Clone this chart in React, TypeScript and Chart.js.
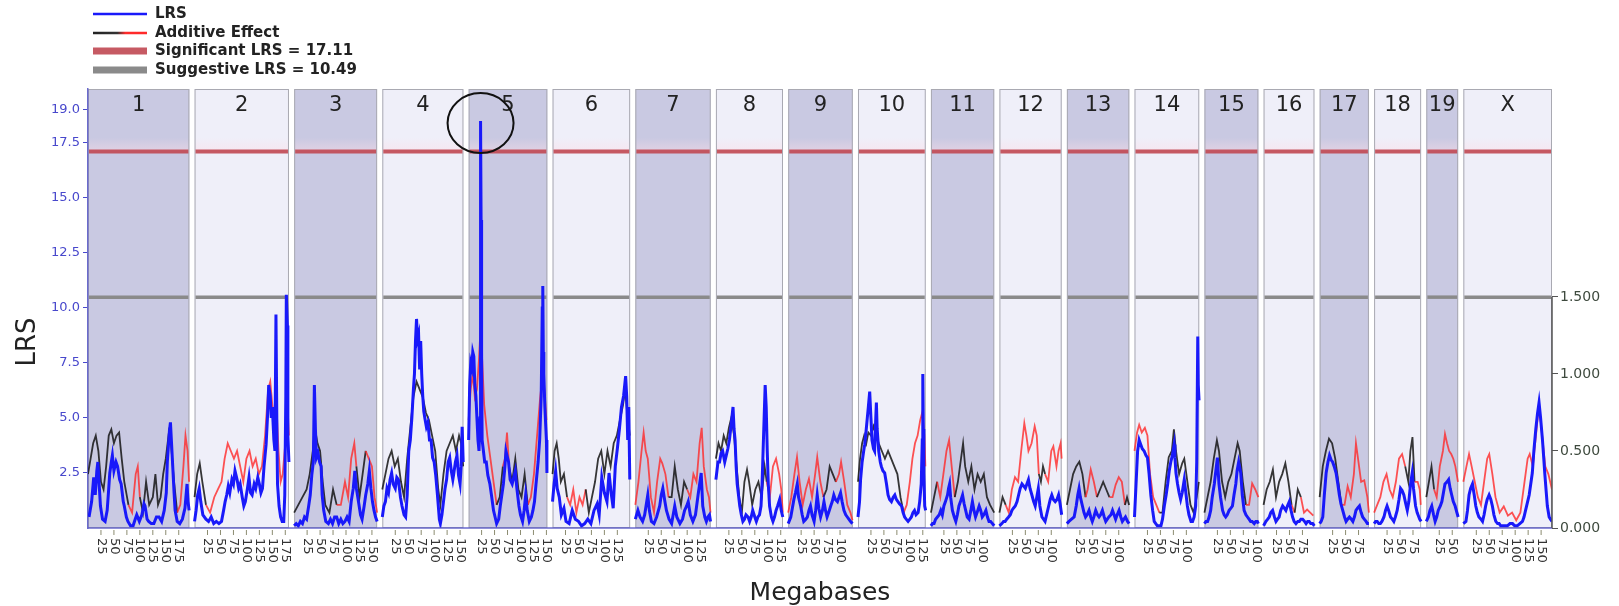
import React, { useEffect, useRef } from 'react';
import { Chart, registerables } from 'chart.js';
Chart.register(...registerables);

// ---------- data ----------
const chromosomes = ['1','2','3','4','5','6','7','8','9','10','11','12','13','14','15','16','17','18','19','X'];
const chrLengthsMb = [195.5,182.1,160.0,156.5,151.8,149.7,145.4,129.4,124.6,130.7,122.1,120.1,120.4,124.9,104.0,98.2,95.0,90.7,61.4,171.0];
const gapMb = 10;
const xTickMb = [25,50,75,100,125,150,175];
const lrsTicks = [2.5,5,7.5,10,12.5,15,17.5,19];
const additiveTicks = [0,0.5,1,1.5];
const significantLRS = 17.11;
const suggestiveLRS = 10.49;
const circleChr = 4;
const circleMb = 23;
const circleLRS = 18.4;

// LRS per chromosome: [Mb, LRS]
const lrs1 = [[2,0.5],[7,1.2],[11,2.3],[14,1.5],[17,2.6],[19,3.0],[22,1.8],[24,1.0],[28,0.4],[33,0.3],[37,0.8],[40,1.8],[42,2.5],[45,3.0],[47,3.3],[50,2.6],[54,3.0],[57,2.8],[61,2.2],[64,2.0],[68,1.2],[70,1.0],[74,0.5],[77,0.3],[82,0.1],[87,0.1],[91,0.4],[94,0.6],[99,0.3],[104,0.6],[108,1.1],[110,1.0],[114,0.4],[117,0.3],[122,0.2],[127,0.2],[132,0.5],[137,0.5],[142,0.3],[147,0.8],[151,1.6],[153,3.0],[157,4.4],[159,4.8],[161,3.9],[163,3.0],[166,1.6],[168,0.8],[172,0.3],[177,0.2],[182,0.4],[187,0.9],[191,2.0],[193,1.2],[195,0.8]];
const lrs2 = [[0,0.3],[3,0.8],[6,1.5],[9,1.8],[12,1.2],[16,0.6],[22,0.4],[27,0.3],[32,0.5],[37,0.2],[42,0.3],[47,0.2],[52,0.3],[56,0.8],[59,1.2],[62,1.5],[65,1.9],[68,1.6],[72,2.2],[75,2.0],[78,2.6],[82,2.2],[85,1.8],[88,2.0],[92,1.4],[95,1.0],[98,1.2],[102,1.8],[105,2.3],[108,1.6],[111,1.5],[115,2.0],[118,1.8],[122,2.3],[125,2.0],[128,1.6],[131,1.8],[134,2.8],[138,3.8],[141,5.2],[143,6.5],[146,6.0],[148,5.0],[150,5.5],[153,4.0],[155,3.5],[157,9.7],[159,4.0],[160,2.0],[163,1.0],[166,0.5],[169,0.3],[172,0.3],[174,1.5],[176,6.0],[177,10.6],[179,9.2],[180,4.2],[182,3.0]];
const lrs3 = [[0,0.1],[4,0.2],[8,0.1],[12,0.3],[16,0.2],[20,0.5],[24,0.4],[28,1.0],[31,1.5],[34,2.4],[37,3.0],[39,6.5],[41,4.5],[43,3.2],[46,3.4],[49,3.0],[52,2.8],[54,1.5],[57,0.8],[61,0.3],[66,0.2],[70,0.4],[74,0.2],[78,0.5],[82,0.5],[86,0.2],[90,0.4],[94,0.2],[98,0.3],[102,0.5],[106,0.3],[110,1.2],[114,1.8],[117,2.6],[120,1.8],[124,1.2],[128,0.6],[131,0.4],[135,1.0],[138,1.5],[142,2.0],[145,2.6],[148,1.8],[151,1.2],[154,0.8],[157,0.5],[160,0.3]];
const lrs4 = [[0,0.5],[3,1.0],[6,1.2],[9,1.8],[12,1.6],[15,2.2],[18,2.5],[21,2.0],[25,1.8],[28,2.3],[31,2.2],[35,1.4],[38,1.0],[42,0.6],[45,0.5],[48,1.5],[51,3.5],[54,4.0],[57,5.0],[60,6.3],[62,7.0],[64,8.5],[66,9.5],[68,8.6],[70,8.8],[72,7.2],[74,8.5],[76,7.0],[78,6.0],[80,5.3],[82,5.0],[85,4.6],[88,4.8],[91,4.0],[94,4.0],[97,3.2],[100,3.0],[103,2.4],[106,1.6],[108,1.0],[110,0.4],[112,0.2],[115,0.6],[118,1.2],[121,1.8],[124,2.2],[127,3.0],[130,3.2],[133,2.6],[136,2.2],[138,2.5],[141,3.0],[144,3.3],[147,2.4],[150,2.0],[152,2.8],[154,4.6],[156,3.0]];
const lrs5 = [[0,4.0],[2,6.5],[4,7.5],[6,7.3],[8,8.0],[10,7.8],[12,6.5],[14,6.0],[16,5.0],[18,4.0],[20,3.5],[22,5.0],[23,18.5],[24,14.0],[25,8.0],[26,4.0],[28,3.6],[31,3.0],[34,3.0],[37,2.4],[41,2.0],[44,1.5],[48,0.8],[51,0.5],[54,0.2],[58,0.4],[61,1.0],[64,1.5],[67,2.0],[70,2.8],[72,3.5],[75,3.2],[77,3.0],[80,2.2],[84,2.0],[87,2.3],[90,2.6],[93,1.8],[97,1.0],[100,0.6],[104,0.3],[107,0.8],[110,1.5],[113,0.8],[117,0.3],[121,0.5],[124,0.8],[127,1.2],[130,2.0],[134,3.0],[137,4.0],[140,6.0],[142,10.0],[143,11.0],[144,8.0],[145,7.0],[147,5.5],[149,4.5],[150,4.0],[151,2.5]];
const lrs6 = [[0,1.2],[3,2.0],[6,2.6],[9,1.8],[13,1.4],[17,0.6],[22,0.9],[26,0.3],[32,0.2],[38,0.8],[44,0.4],[50,0.3],[56,0.1],[62,0.2],[68,0.4],[74,0.2],[80,0.8],[86,1.1],[90,0.6],[95,2.3],[100,1.6],[105,1.2],[109,2.5],[113,1.6],[117,0.9],[121,2.8],[125,3.6],[129,4.5],[133,5.5],[137,6.0],[141,6.9],[143,6.0],[145,4.0],[147,5.5],[149,2.2]];
const lrs7 = [[0,0.4],[5,0.8],[9,0.5],[14,0.3],[18,0.6],[22,1.2],[24,1.5],[27,0.8],[31,0.3],[36,0.2],[41,0.5],[47,1.0],[50,1.5],[53,1.8],[57,1.2],[60,0.8],[65,0.4],[70,0.2],[76,1.0],[80,0.5],[86,0.2],[91,0.4],[95,0.8],[99,1.0],[102,1.2],[106,0.6],[111,0.3],[116,0.6],[121,1.5],[124,2.0],[127,2.5],[130,1.0],[134,0.5],[137,0.3],[140,0.5],[143,0.6],[145,0.3]];
const lrs8 = [[0,2.2],[4,3.0],[7,3.0],[10,3.4],[13,3.5],[17,3.0],[20,3.3],[23,3.6],[26,4.0],[29,4.6],[33,5.5],[35,4.5],[37,4.0],[39,2.8],[41,2.0],[44,1.4],[46,1.0],[49,0.6],[52,0.3],[55,0.4],[58,0.6],[62,0.5],[65,0.3],[68,0.5],[71,0.8],[75,0.5],[78,0.3],[81,0.5],[84,0.6],[87,1.0],[89,2.0],[91,3.5],[93,5.0],[95,6.5],[97,5.5],[99,3.5],[101,2.0],[103.5,1.0],[107,0.5],[110,0.3],[113,0.5],[116,0.8],[119,1.0],[123,1.3],[126,0.8],[129,0.5]];
const lrs9 = [[0,0.2],[5,0.5],[8,0.9],[11,1.3],[14,1.6],[17.5,2.0],[20,1.4],[24,1.0],[27,0.6],[30,0.3],[34,0.4],[37,0.5],[40,0.8],[43,1.0],[46,0.6],[50,0.3],[53,0.8],[56,1.5],[59,0.9],[62.5,0.5],[66,0.8],[69,1.2],[72,0.8],[75,0.5],[78,0.7],[82,1.0],[85,1.2],[88,1.5],[91,1.3],[95,1.2],[98,1.4],[101,1.6],[104,1.2],[107.5,0.8],[111,0.6],[114,0.5],[117,0.4],[120,0.3],[124,0.2]];
const lrs10 = [[0,0.5],[3,1.2],[5,2.2],[8,3.0],[11,3.5],[13,3.8],[16,4.5],[18,5.0],[20,5.5],[22.6,6.2],[25,5.0],[27,4.0],[30,3.6],[32,3.5],[34,4.8],[35.5,5.7],[37,4.5],[40,3.5],[43,3.0],[45,2.8],[48,2.6],[51.5,2.5],[55,2.0],[58,1.5],[61,1.3],[64.5,1.2],[68,1.4],[71,1.5],[74,1.3],[77,1.2],[80,1.1],[84,1.0],[87,0.7],[90,0.5],[93,0.4],[96.6,0.3],[100,0.4],[103,0.5],[106,0.7],[109,0.8],[112,0.6],[116,0.7],[119,1.2],[122,2.0],[124,4.0],[125,7.0],[126,4.5],[127,2.5],[128.7,1.0],[130.5,0.8]];
const lrs11 = [[0,0.1],[3,0.2],[6,0.2],[9,0.4],[12.5,0.5],[16,0.6],[19,0.8],[22,0.6],[25,1.0],[28,1.2],[32,1.5],[34,1.8],[36,2.0],[38,1.4],[41.4,0.8],[45,0.5],[48,0.3],[51,0.6],[54,1.0],[57,1.2],[61,1.5],[64,1.1],[67,0.8],[70,0.5],[73.6,0.4],[77,0.8],[80,1.2],[83,0.8],[86,0.5],[89,0.7],[93,1.0],[96,0.8],[99,0.5],[102,0.6],[106,0.8],[109,0.5],[112,0.3],[115,0.3],[118.6,0.2],[122,0.1]];
const lrs12 = [[0,0.1],[4.7,0.2],[8,0.3],[11,0.3],[14,0.4],[17.6,0.5],[21,0.6],[24,0.8],[27,0.9],[30.5,1.0],[34,1.2],[37,1.5],[40,1.8],[43.5,2.0],[47,1.9],[50,1.8],[53,2.0],[56,2.2],[59,1.8],[62.6,1.5],[66,1.2],[69,1.0],[72,1.4],[75,1.8],[78,1.0],[82,0.5],[85,0.4],[88,0.3],[91,0.6],[95,1.0],[98,1.3],[101,1.5],[104,1.3],[107.6,1.2],[111,1.3],[114,1.5],[117,1.1],[120,0.6]];
const lrs13 = [[0,0.2],[4,0.3],[9,0.4],[14,0.5],[18,1.0],[21,1.5],[23.5,1.8],[26,1.4],[30,1.0],[33,0.7],[36,0.5],[39,0.6],[42.7,0.8],[46,0.5],[49,0.3],[52,0.5],[55.6,0.8],[59,0.6],[62,0.5],[65,0.6],[68.5,0.8],[72,0.5],[75,0.3],[78,0.4],[81,0.5],[85,0.6],[88,0.8],[91,0.6],[94,0.4],[97,0.6],[100.6,0.8],[104,0.5],[107,0.3],[110,0.4],[113,0.5],[117,0.3],[120,0.2]];
const lrs14 = [[0,0.5],[3,2.0],[6,3.5],[9,4.0],[12,3.8],[15,3.6],[18.6,3.5],[22,3.3],[25,3.2],[28,2.5],[31.5,1.5],[35,0.8],[38,0.3],[41,0.2],[44,0.1],[48,0.1],[51,0.1],[54,0.4],[57.5,1.0],[61,1.5],[64,2.0],[67,2.6],[70,3.0],[73,3.3],[76.5,3.8],[78,3.2],[80,2.5],[83,2.0],[86,1.6],[89,1.3],[92,1.6],[96,2.2],[99,1.6],[102,1.0],[105,0.6],[109,0.3],[112,0.3],[115,0.5],[118,1.0],[120,3.0],[122,8.7],[123,6.5],[124.5,5.8]];
const lrs15 = [[0,0.2],[3,0.3],[6,0.3],[9,0.5],[12,0.8],[15,1.4],[19,2.0],[22,2.6],[25,3.2],[28,2.0],[31,1.4],[35,0.8],[38,0.6],[41,0.5],[44,0.6],[47.6,0.8],[51,0.9],[54,1.0],[57,1.5],[60.5,2.0],[63,2.6],[66,3.0],[70,2.5],[73,1.5],[76.5,0.8],[80,0.6],[83,0.5],[86,0.4],[89,0.3],[92,0.3],[96,0.2],[99,0.3],[102,0.3],[104,0.2]];
const lrs16 = [[0,0.1],[4.6,0.3],[8,0.4],[11,0.5],[14,0.7],[17.5,0.8],[21,0.5],[24,0.3],[27,0.4],[30,0.5],[33,0.8],[36.8,1.0],[40,0.9],[43,0.8],[46,1.0],[49.7,1.2],[53,0.8],[56,0.5],[59,0.3],[62.5,0.2],[66,0.3],[69,0.3],[72,0.4],[75.4,0.4],[79,0.3],[82,0.2],[85,0.3],[88,0.3],[91,0.2],[94.7,0.2],[98,0.1]];
const lrs17 = [[0,0.2],[3,0.3],[6,0.5],[9,1.5],[12.5,2.5],[16,3.0],[19,3.3],[22,3.1],[25,3.0],[28,2.8],[31.7,2.5],[35,2.0],[38,1.5],[41,1.1],[44.5,0.8],[48,0.5],[51,0.3],[54,0.4],[57.4,0.5],[61,0.4],[64,0.3],[67,0.5],[70,0.8],[73,0.9],[76.7,1.0],[80,0.7],[83,0.5],[86,0.4],[89.5,0.3],[92,0.2],[95,0.2]];
const lrs18 = [[0,0.2],[3,0.3],[6,0.3],[9,0.2],[12,0.2],[15,0.3],[19,0.5],[22,0.8],[25,1.0],[28,0.8],[31.7,0.5],[35,0.4],[38,0.3],[41,0.5],[44.5,0.8],[48,1.3],[51,1.8],[54,1.7],[57.4,1.5],[61,1.1],[64,0.8],[67,1.2],[70.3,2.0],[73.5,2.5],[76,1.8],[80,1.0],[83,0.7],[86.3,0.5],[88,0.4],[90.7,0.3]];
const lrs19 = [[0,0.3],[4,0.5],[7,0.8],[10.5,1.0],[14,0.6],[17,0.3],[20,0.5],[23,0.8],[27,1.0],[30,1.2],[33,1.6],[36,2.0],[40,2.1],[43,2.2],[46,1.8],[49,1.5],[52,1.2],[55.6,1.0],[59,0.7],[61.4,0.5]];
const lrsX = [[0,0.2],[5,0.3],[8,0.8],[11,1.5],[14,1.8],[17.6,2.0],[21,1.5],[24,1.0],[27,0.7],[30,0.5],[34,0.4],[37,0.3],[40,0.6],[43,1.0],[46,1.3],[49.7,1.5],[53,1.3],[56,1.0],[59,0.6],[62.6,0.3],[66,0.2],[69,0.2],[72,0.1],[75,0.1],[80,0.1],[85,0.1],[90,0.2],[94.8,0.2],[99,0.1],[104,0.1],[109,0.2],[114,0.3],[117,0.5],[120,0.8],[124,1.2],[127,1.5],[130,2.0],[133,2.5],[136,3.5],[139.8,4.5],[143,5.2],[146,5.7],[149,5.0],[152.6,4.0],[155,3.2],[157,2.5],[160,1.6],[162,1.0],[165.5,0.5],[168,0.4],[171,0.3]];

// Additive effect per chromosome: [Mb, signed effect] (positive = black, negative = red)
const add1 = [[0,0.35],[5,0.45],[10,0.55],[15,0.6],[20,0.5],[25,0.3],[30,0.25],[35,0.4],[40,0.6],[45,0.64],[50,0.55],[55,0.6],[60,0.62],[65,0.45],[70,0.3],[78,0.15],[85,-0.1],[92,-0.35],[96,-0.4],[100,-0.2],[106,0.1],[112,0.3],[118,0.15],[125,0.2],[130,0.35],[135,0.15],[140,0.2],[145,0.35],[150,0.45],[156,0.62],[160,0.55],[166,0.3],[172,0.1],[178,-0.15],[184,-0.4],[188,-0.6],[192,-0.5],[195,-0.3]];
const add2 = [[0,0.2],[5,0.35],[10,0.42],[15,0.3],[22,0.15],[30,-0.1],[38,-0.2],[45,-0.25],[52,-0.3],[58,-0.45],[64,-0.55],[70,-0.5],[76,-0.45],[82,-0.5],[88,-0.4],[94,-0.3],[100,-0.45],[106,-0.5],[112,-0.4],[118,-0.45],[124,-0.35],[130,-0.4],[136,-0.6],[142,-0.9],[146,-0.95],[150,-0.8],[154,-0.7],[158,-0.8],[162,-0.5],[166,-0.3],[170,-0.35],[175,-0.55],[178,-0.9],[182,-0.6]];
const add3 = [[0,0.1],[8,0.15],[16,0.2],[24,0.25],[30,0.35],[36,0.5],[40,0.65],[45,0.55],[50,0.5],[55,0.3],[60,0.15],[68,0.1],[75,0.25],[82,0.15],[90,-0.15],[98,-0.3],[104,-0.2],[110,-0.45],[116,-0.55],[120,-0.4],[126,0.2],[132,0.35],[138,0.5],[144,-0.45],[150,-0.4],[155,-0.2],[160,-0.1]];
const add4 = [[0,0.25],[6,0.35],[12,0.45],[18,0.5],[24,0.4],[30,0.45],[36,0.3],[42,0.2],[48,0.45],[54,0.65],[60,0.85],[66,0.95],[72,0.9],[78,0.85],[84,0.75],[90,0.7],[96,0.6],[102,0.5],[108,0.25],[112,0.15],[118,0.35],[124,0.5],[130,0.55],[136,0.6],[142,0.5],[148,0.6],[152,0.55],[156,0.4]];
const add5 = [[0,-0.7],[4,-0.9],[8,-1.0],[12,-0.85],[16,-0.9],[20,-1.1],[23,-1.3],[26,-1.1],[30,-0.8],[36,-0.6],[42,-0.45],[48,-0.3],[54,-0.15],[60,0.2],[66,0.4],[70,-0.45],[74,-0.62],[78,-0.4],[84,0.3],[90,0.45],[96,0.25],[102,0.2],[108,0.35],[114,0.15],[120,-0.2],[126,-0.35],[132,-0.6],[138,-0.85],[143,-1.0],[146,-0.9],[150,-0.7]];
const add6 = [[0,0.35],[4,0.5],[8,0.55],[12,0.45],[16,0.3],[22,0.35],[28,0.2],[34,-0.15],[40,-0.25],[46,-0.1],[52,-0.2],[58,-0.15],[64,-0.25],[70,0.1],[76,0.2],[82,0.3],[88,0.45],[94,0.5],[100,0.35],[106,0.5],[112,0.4],[118,0.55],[124,0.6],[130,0.7],[136,0.8],[140,0.9],[144,0.75],[149,0.6]];
const add7 = [[0,-0.15],[6,-0.3],[12,-0.5],[16,-0.62],[20,-0.5],[24,-0.45],[30,-0.2],[36,-0.1],[42,-0.3],[48,-0.45],[52,-0.42],[58,-0.35],[64,-0.2],[70,0.2],[76,0.4],[82,0.25],[88,0.15],[94,0.3],[100,0.25],[106,-0.2],[112,-0.35],[118,-0.3],[124,-0.55],[128,-0.65],[132,-0.4],[138,-0.25],[142,-0.2],[145,-0.1]];
const add8 = [[0,0.45],[5,0.55],[10,0.5],[15,0.6],[20,0.55],[25,0.65],[30,0.72],[35,0.6],[40,0.4],[45,0.2],[50,0.1],[55,0.3],[60,0.38],[64,0.3],[70,0.15],[76,0.25],[82,0.3],[88,0.2],[94,0.4],[98,0.3],[104,-0.2],[110,-0.4],[116,-0.45],[122,-0.35],[126,-0.25],[129,-0.1]];
const add9 = [[0,-0.1],[6,-0.2],[12,-0.35],[17,-0.46],[22,-0.3],[28,-0.15],[34,-0.25],[40,-0.32],[46,-0.2],[52,-0.35],[56,-0.46],[62,-0.3],[68,-0.2],[74,0.25],[80,0.4],[86,0.35],[92,0.3],[98,-0.35],[102,-0.43],[108,-0.3],[114,-0.15],[120,-0.1],[124,-0.05]];
const add10 = [[0,0.3],[4,0.45],[8,0.55],[12,0.6],[16,0.55],[20,0.62],[25,0.6],[30,0.66],[35,0.6],[40,0.55],[46,0.5],[52,0.45],[58,0.5],[64,0.45],[70,0.4],[76,0.35],[82,0.2],[88,0.1],[94,-0.15],[100,-0.3],[105,-0.45],[110,-0.55],[115,-0.6],[120,-0.7],[124,-0.75],[128,-0.6],[130,-0.4]];
const add11 = [[0,0.1],[6,0.2],[12,0.3],[18,-0.2],[24,-0.35],[30,-0.5],[35,-0.57],[40,-0.4],[46,-0.2],[52,0.3],[58,0.45],[62,0.55],[66,0.4],[72,0.3],[78,0.4],[84,0.25],[90,0.35],[96,0.3],[102,0.35],[108,0.2],[114,0.15],[122,0.1]];
const add12 = [[0,0.1],[6,0.2],[12,0.15],[18,-0.1],[24,-0.25],[30,-0.33],[36,-0.3],[42,-0.5],[48,-0.68],[52,-0.6],[56,-0.5],[62,-0.55],[68,-0.66],[72,-0.6],[76,-0.35],[80,0.3],[84,0.4],[88,0.35],[94,-0.3],[100,-0.5],[104,-0.53],[110,-0.4],[114,-0.5],[118,-0.55],[120,-0.45]];
const add13 = [[0,0.15],[6,0.25],[12,0.35],[18,0.4],[24,0.43],[30,0.35],[36,0.2],[40,-0.25],[46,-0.38],[52,-0.3],[58,-0.2],[64,0.25],[70,0.3],[76,0.25],[82,0.2],[88,-0.2],[94,-0.28],[100,-0.33],[106,-0.3],[112,-0.15],[116,0.2],[120,0.15]];
const add14 = [[0,-0.5],[5,-0.62],[9,-0.67],[14,-0.62],[20,-0.65],[25,-0.6],[30,-0.35],[36,-0.2],[42,-0.15],[48,-0.1],[54,0.1],[60,0.3],[66,0.46],[72,0.5],[76,0.64],[80,0.5],[86,0.35],[92,0.42],[96,0.45],[102,0.3],[108,0.15],[114,0.1],[120,0.2],[124,0.3]];
const add15 = [[0,0.1],[6,0.2],[12,0.3],[18,0.45],[24,0.57],[28,0.5],[34,0.3],[40,0.2],[46,0.3],[52,0.35],[58,0.45],[64,0.55],[68,0.5],[74,0.3],[80,0.15],[86,-0.15],[92,-0.29],[98,-0.25],[104,-0.2]];
const add16 = [[0,0.15],[6,0.25],[12,0.3],[18,0.38],[24,0.2],[30,0.3],[36,0.35],[42,0.42],[48,0.3],[54,0.15],[60,-0.1],[66,0.25],[72,0.2],[78,-0.1],[84,-0.12],[90,-0.1],[96,-0.08]];
const add17 = [[0,0.2],[6,0.4],[12,0.5],[18,0.58],[24,0.55],[30,0.45],[36,0.3],[42,0.15],[48,-0.15],[54,-0.27],[60,-0.2],[66,-0.35],[70,-0.55],[74,-0.45],[80,-0.3],[86,-0.31],[92,-0.2],[95,-0.1]];
const add18 = [[0,-0.1],[6,-0.15],[12,-0.2],[18,-0.3],[24,-0.35],[30,-0.25],[36,-0.2],[42,-0.3],[48,-0.45],[54,-0.48],[60,-0.4],[66,0.3],[70,0.5],[74,0.59],[78,0.3],[84,-0.3],[88,-0.25],[90,-0.15]];
const add19 = [[0,0.2],[5,0.3],[10,0.4],[15,0.25],[20,-0.2],[26,-0.4],[32,-0.5],[36,-0.61],[40,-0.55],[44,-0.5],[48,-0.48],[52,-0.45],[56,-0.4],[61,-0.3]];
const addX = [[0,-0.3],[6,-0.4],[11,-0.48],[16,-0.4],[22,-0.3],[28,-0.2],[34,-0.15],[40,-0.3],[46,-0.45],[50,-0.48],[56,-0.35],[62,-0.2],[70,-0.1],[78,-0.14],[86,-0.08],[94,-0.1],[102,-0.05],[110,-0.1],[118,-0.3],[124,-0.45],[128,-0.48],[134,-0.4],[140,-0.6],[146,-0.8],[152,-0.6],[158,-0.4],[164,-0.35],[171,-0.25]];

const lrsSeries = [lrs1,lrs2,lrs3,lrs4,lrs5,lrs6,lrs7,lrs8,lrs9,lrs10,lrs11,lrs12,lrs13,lrs14,lrs15,lrs16,lrs17,lrs18,lrs19,lrsX];
const addSeries = [add1,add2,add3,add4,add5,add6,add7,add8,add9,add10,add11,add12,add13,add14,add15,add16,add17,add18,add19,addX];

// ---------- derived ----------
const chrOffsets: number[] = [];
let acc = 0;
chrLengthsMb.forEach((len) => { chrOffsets.push(acc); acc += len + gapMb; });
const totalMb = acc - gapMb;

const lrsData: any[] = [];
lrsSeries.forEach((arr, i) => {
  arr.forEach(([mb, v]) => lrsData.push({ x: chrOffsets[i] + mb, y: v }));
  lrsData.push({ x: chrOffsets[i] + chrLengthsMb[i] + gapMb / 2, y: null });
});
const addData: any[] = [];
const addSigns: number[] = [];
addSeries.forEach((arr, i) => {
  arr.forEach(([mb, v]) => { addData.push({ x: chrOffsets[i] + mb, y: Math.abs(v) }); addSigns.push(v < 0 ? -1 : 1); });
  addData.push({ x: chrOffsets[i] + chrLengthsMb[i] + gapMb / 2, y: null });
  addSigns.push(1);
});

// ---------- styles ----------
const FONT = '"DejaVu Sans", Verdana, sans-serif';
const darkPanel = '#c9c9e2';
const lightPanel = '#efeff9';
const lrsBlue = 'rgb(25,25,250)';
const addBlack = 'rgba(20,20,20,0.85)';
const addRed = 'rgba(255,40,40,0.8)';
const sigColor = 'rgba(192,72,82,0.9)';
const sugColor = '#8a8a8a';
const axisBlue = '#4848cc';

const panelPlugin = {
  id: 'panelPlugin',
  beforeDraw(chart: any) {
    const { ctx, chartArea: ca, scales } = chart;
    const xs = scales.x, ys = scales.y;
    const ySig = ys.getPixelForValue(significantLRS);
    const ySug = ys.getPixelForValue(suggestiveLRS);
    ctx.save();
    chromosomes.forEach((name, i) => {
      const x0 = xs.getPixelForValue(chrOffsets[i]);
      const x1 = xs.getPixelForValue(chrOffsets[i] + chrLengthsMb[i]);
      ctx.fillStyle = i % 2 === 0 ? darkPanel : lightPanel;
      ctx.fillRect(x0, ca.top, x1 - x0, ca.bottom - ca.top);
      const g = ctx.createLinearGradient(0, ySig - 14, 0, ySig);
      g.addColorStop(0, 'rgba(255,220,230,0)');
      g.addColorStop(1, 'rgba(255,220,230,0.45)');
      ctx.fillStyle = g;
      ctx.fillRect(x0, ySig - 14, x1 - x0, 14);
      ctx.strokeStyle = '#a9a9b2';
      ctx.lineWidth = 1;
      ctx.strokeRect(x0 + 0.5, ca.top + 0.5, x1 - x0 - 1, ca.bottom - ca.top - 1);
      ctx.lineCap = 'butt';
      ctx.strokeStyle = sigColor;
      ctx.lineWidth = 4;
      ctx.beginPath(); ctx.moveTo(x0 + 1, ySig); ctx.lineTo(x1 - 1, ySig); ctx.stroke();
      ctx.strokeStyle = sugColor;
      ctx.lineWidth = 3.5;
      ctx.beginPath(); ctx.moveTo(x0 + 1, ySug); ctx.lineTo(x1 - 1, ySug); ctx.stroke();
      ctx.fillStyle = '#222';
      ctx.font = `21px ${FONT}`;
      ctx.textAlign = 'center';
      ctx.textBaseline = 'middle';
      ctx.fillText(name, (x0 + x1) / 2, ca.top + 17);
    });
    ctx.restore();
  },
  afterDatasetsDraw(chart: any) {
    const { ctx, chartArea: ca, scales } = chart;
    const xs = scales.x, ys = scales.y, y2 = scales.y2;
    ctx.save();
    ctx.strokeStyle = 'rgba(90,90,200,0.9)';
    ctx.lineWidth = 1.5;
    ctx.beginPath(); ctx.moveTo(ca.left, ca.bottom); ctx.lineTo(ca.right, ca.bottom); ctx.stroke();
    ctx.strokeStyle = '#555';
    ctx.lineWidth = 1.5;
    ctx.beginPath();
    ctx.moveTo(ca.right, y2.getPixelForValue(0));
    ctx.lineTo(ca.right, y2.getPixelForValue(additiveTicks[additiveTicks.length - 1]));
    ctx.stroke();
    const cx = xs.getPixelForValue(chrOffsets[circleChr] + circleMb);
    const cy = ys.getPixelForValue(circleLRS);
    ctx.strokeStyle = '#111';
    ctx.lineWidth = 2;
    ctx.beginPath(); ctx.ellipse(cx, cy, 33, 30, 0, 0, Math.PI * 2); ctx.stroke();
    ctx.restore();
  },
  afterDraw(chart: any) {
    const { ctx, chartArea: ca, scales } = chart;
    const xs = scales.x;
    ctx.save();
    ctx.font = `13px ${FONT}`;
    chromosomes.forEach((_, i) => {
      xTickMb.filter((t) => t < chrLengthsMb[i]).forEach((t) => {
        const x = xs.getPixelForValue(chrOffsets[i] + t);
        ctx.strokeStyle = '#8c8c70';
        ctx.lineWidth = 1;
        ctx.beginPath(); ctx.moveTo(x, ca.bottom + 2); ctx.lineTo(x, ca.bottom + 7); ctx.stroke();
        ctx.save();
        ctx.translate(x, ca.bottom + 10);
        ctx.rotate(Math.PI / 2);
        ctx.fillStyle = '#333';
        ctx.textAlign = 'left';
        ctx.textBaseline = 'middle';
        ctx.fillText(String(t), 0, 0);
        ctx.restore();
      });
    });
    ctx.fillStyle = '#222';
    ctx.font = `25px ${FONT}`;
    ctx.textAlign = 'center';
    ctx.textBaseline = 'middle';
    ctx.fillText('Megabases', (ca.left + ca.right) / 2, 593);
    ctx.save();
    ctx.translate(28, 342);
    ctx.rotate(-Math.PI / 2);
    ctx.font = `26px ${FONT}`;
    ctx.fillText('LRS', 0, 0);
    ctx.restore();
    const lx0 = 93, lx1 = 147, tx = 155;
    const rows = [14, 33, 51, 70];
    ctx.lineCap = 'butt';
    ctx.strokeStyle = lrsBlue; ctx.lineWidth = 2.5;
    ctx.beginPath(); ctx.moveTo(lx0, rows[0]); ctx.lineTo(lx1, rows[0]); ctx.stroke();
    const grad = ctx.createLinearGradient(lx0, 0, lx1, 0);
    grad.addColorStop(0, '#222'); grad.addColorStop(0.45, '#333');
    grad.addColorStop(0.6, '#ff2a2a'); grad.addColorStop(1, '#ff2a2a');
    ctx.strokeStyle = grad; ctx.lineWidth = 2.5;
    ctx.beginPath(); ctx.moveTo(lx0, rows[1]); ctx.lineTo(lx1, rows[1]); ctx.stroke();
    ctx.strokeStyle = sigColor; ctx.lineWidth = 7;
    ctx.beginPath(); ctx.moveTo(lx0, rows[2]); ctx.lineTo(lx1, rows[2]); ctx.stroke();
    ctx.strokeStyle = sugColor; ctx.lineWidth = 7;
    ctx.beginPath(); ctx.moveTo(lx0, rows[3]); ctx.lineTo(lx1, rows[3]); ctx.stroke();
    ctx.fillStyle = '#222';
    ctx.font = `bold 15px ${FONT}`;
    ctx.textAlign = 'left';
    ctx.textBaseline = 'middle';
    ctx.fillText('LRS', tx, rows[0]);
    ctx.fillText('Additive Effect', tx, rows[1]);
    ctx.fillText(`Significant LRS = ${significantLRS.toFixed(2)}`, tx, rows[2]);
    ctx.fillText(`Suggestive LRS = ${suggestiveLRS.toFixed(2)}`, tx, rows[3]);
    ctx.restore();
  },
};

export default function App() {
  const ref = useRef<HTMLCanvasElement>(null);
  useEffect(() => {
    const chart = new Chart(ref.current as HTMLCanvasElement, {
      type: 'line',
      data: {
        datasets: [
          {
            label: 'LRS',
            data: lrsData,
            yAxisID: 'y',
            borderColor: lrsBlue,
            borderWidth: 3,
            pointRadius: 0,
            tension: 0,
            spanGaps: false,
          },
          {
            label: 'Additive Effect',
            data: addData,
            yAxisID: 'y2',
            borderColor: addBlack,
            borderWidth: 1.8,
            pointRadius: 0,
            tension: 0,
            spanGaps: false,
            segment: {
              borderColor: (c: any) => (addSigns[c.p1DataIndex] < 0 ? addRed : addBlack),
            },
          },
        ],
      },
      options: {
        responsive: false,
        animation: false,
        events: [],
        layout: { padding: { top: 89, left: 0, right: 0, bottom: 0 } },
        plugins: { legend: { display: false }, tooltip: { enabled: false }, title: { display: false } },
        scales: {
          x: {
            type: 'linear',
            min: 0,
            max: totalMb,
            grid: { display: false },
            border: { display: false },
            ticks: { display: false },
            afterFit: (s: any) => { s.height = 78; },
          },
          y: {
            position: 'left',
            min: 0,
            max: 19.95,
            afterBuildTicks: (s: any) => { s.ticks = lrsTicks.map((v) => ({ value: v })); },
            ticks: {
              color: axisBlue,
              font: { family: FONT, size: 13 },
              padding: 3,
              callback: (v: any) => Number(v).toFixed(1),
            },
            grid: { drawOnChartArea: false, tickLength: 5, color: axisBlue, tickColor: axisBlue },
            border: { display: true, color: 'rgba(90,90,200,0.9)', width: 1.5 },
            afterFit: (s: any) => { s.width = 88; },
          },
          y2: {
            position: 'right',
            min: 0,
            max: 2.85,
            afterBuildTicks: (s: any) => { s.ticks = additiveTicks.map((v) => ({ value: v })); },
            ticks: {
              color: '#3e4a3e',
              font: { family: FONT, size: 14 },
              padding: 2,
              callback: (v: any) => Number(v).toFixed(3),
            },
            grid: { drawOnChartArea: false, tickLength: 6, color: '#555', tickColor: '#555' },
            border: { display: false },
            afterFit: (s: any) => { s.width = 67; },
          },
        },
      } as any,
      plugins: [panelPlugin],
    });
    return () => chart.destroy();
  }, []);
  return (
    <div style={{ position: 'fixed', left: 0, top: 0, width: 1619, height: 606, background: '#fff' }}>
      <canvas ref={ref} width={1619} height={606} style={{ width: 1619, height: 606, display: 'block' }} />
    </div>
  );
}
